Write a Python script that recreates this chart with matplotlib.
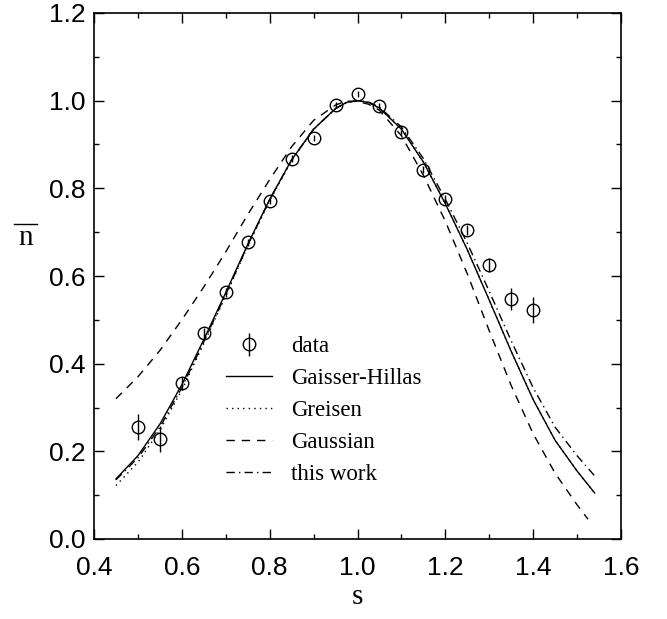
import numpy as np
import matplotlib
matplotlib.use("Agg")
import matplotlib.pyplot as plt
from matplotlib.lines import Line2D

# ---- data ----
data_s = [0.50, 0.55, 0.60, 0.65, 0.70, 0.75, 0.80, 0.85, 0.90, 0.95,
          1.00, 1.05, 1.10, 1.15, 1.20, 1.25, 1.30, 1.35, 1.40]
data_n = [0.255, 0.228, 0.355, 0.470, 0.563, 0.677, 0.772, 0.868, 0.915, 0.990,
          1.015, 0.988, 0.928, 0.842, 0.775, 0.705, 0.625, 0.548, 0.522]
data_err = [0.030, 0.030, 0.015, 0.012, 0.010, 0.008, 0.008, 0.007, 0.007, 0.006,
            0.006, 0.006, 0.006, 0.008, 0.010, 0.012, 0.015, 0.025, 0.030]

curve_s = [0.45, 0.50, 0.55, 0.60, 0.65, 0.70, 0.75, 0.80, 0.85, 0.90, 0.95, 0.975,
           1.00, 1.025, 1.05, 1.10, 1.15, 1.20, 1.25, 1.30, 1.35, 1.40, 1.45, 1.50, 1.54]
gaisser_hillas = [0.137, 0.190, 0.262, 0.352, 0.455, 0.562, 0.672, 0.775, 0.865, 0.935, 0.982, 0.996,
                  1.000, 0.996, 0.983, 0.935, 0.860, 0.765, 0.660, 0.545, 0.428, 0.318, 0.225, 0.155, 0.105]
greisen = [0.122, 0.175, 0.248, 0.340, 0.446, 0.555, 0.668, 0.772, 0.863, 0.934, 0.982, 0.996,
           1.000, 0.996, 0.983, 0.935, 0.860, 0.765, 0.660, 0.545, 0.428, 0.318, 0.225, 0.155, 0.105]
this_work = [0.135, 0.185, 0.255, 0.345, 0.450, 0.558, 0.670, 0.774, 0.865, 0.935, 0.982, 0.996,
             1.000, 0.997, 0.985, 0.940, 0.868, 0.775, 0.675, 0.565, 0.452, 0.345, 0.255, 0.190, 0.144]

gauss_s = [0.45, 0.50, 0.55, 0.60, 0.65, 0.70, 0.75, 0.80, 0.85, 0.90, 0.95, 0.975,
           1.00, 1.025, 1.05, 1.10, 1.15, 1.20, 1.25, 1.30, 1.35, 1.40, 1.45, 1.50, 1.525]
gaussian = [0.320, 0.370, 0.430, 0.500, 0.575, 0.655, 0.740, 0.820, 0.895, 0.955, 0.990, 0.999,
            0.998, 0.992, 0.978, 0.920, 0.830, 0.725, 0.605, 0.475, 0.350, 0.240, 0.150, 0.078, 0.045]

xticks = [0.4, 0.6, 0.8, 1.0, 1.2, 1.4, 1.6]
yticks = [0.0, 0.2, 0.4, 0.6, 0.8, 1.0, 1.2]

fig = plt.figure(figsize=(6.67, 6.19), dpi=100)
ax = fig.add_axes([94/667, 1-539/619, (621-94)/667, (539-13)/619])

lw = 1.0
ax.plot(curve_s, gaisser_hillas, color='black', lw=lw, ls='-', label='Gaisser-Hillas')
ax.plot(curve_s, greisen, color='black', lw=lw, ls=(0, (1, 3)), label='Greisen')
ax.plot(gauss_s, gaussian, color='black', lw=lw, ls=(0, (6, 5)), label='Gaussian')
ax.plot(curve_s, this_work, color='black', lw=lw, ls=(0, (6, 3, 1, 3)), label='this work')
ax.errorbar(data_s, data_n, yerr=data_err, fmt='o', mfc='none', mec='black', ecolor='black',
            ms=9, mew=1.0, elinewidth=1.0, capsize=0, label='data')

ax.set_xlim(0.4, 1.6)
ax.set_ylim(0.0, 1.2)
ax.set_xticks(xticks)
ax.set_yticks(yticks)
ax.set_xticklabels([f"{v:.1f}" for v in xticks])
ax.set_yticklabels([f"{v:.1f}" for v in yticks])
ax.set_xticks(np.arange(0.5, 1.6, 0.2), minor=True)
ax.set_yticks(np.arange(0.1, 1.2, 0.2), minor=True)
ax.tick_params(which='both', direction='in', top=True, right=True, width=1.0)
ax.tick_params(which='major', length=7.2, labelsize=19)
ax.tick_params(axis='x', which='major', pad=12)
ax.tick_params(axis='y', which='major', pad=6)
ax.tick_params(which='minor', length=3.6)
for lab in ax.get_xticklabels() + ax.get_yticklabels():
    lab.set_family('Liberation Sans')
for sp in ax.spines.values():
    sp.set_linewidth(1.2)

ax.set_xlabel('s', family='Liberation Serif', fontsize=21)
ax.xaxis.set_label_coords(0.5, -0.085)
fig.text(26/667, 1-238/619, 'n', family='Liberation Serif', fontsize=21, ha='center', va='center')
fig.add_artist(Line2D([14/667, 37/667], [1-224/619, 1-224/619], transform=fig.transFigure,
                      color='black', lw=1.0))

handles, labels = ax.get_legend_handles_labels()
order = [4, 0, 1, 2, 3]
leg = ax.legend([handles[i] for i in order], [labels[i] for i in order],
                loc='upper left', bbox_to_anchor=((215-94)/527, (539-325)/526),
                frameon=False, prop={'family': 'Liberation Serif', 'size': 16.5},
                handlelength=2.0, handletextpad=0.8, labelspacing=0.47, borderpad=0)

fig.savefig('out.png', dpi=100)
